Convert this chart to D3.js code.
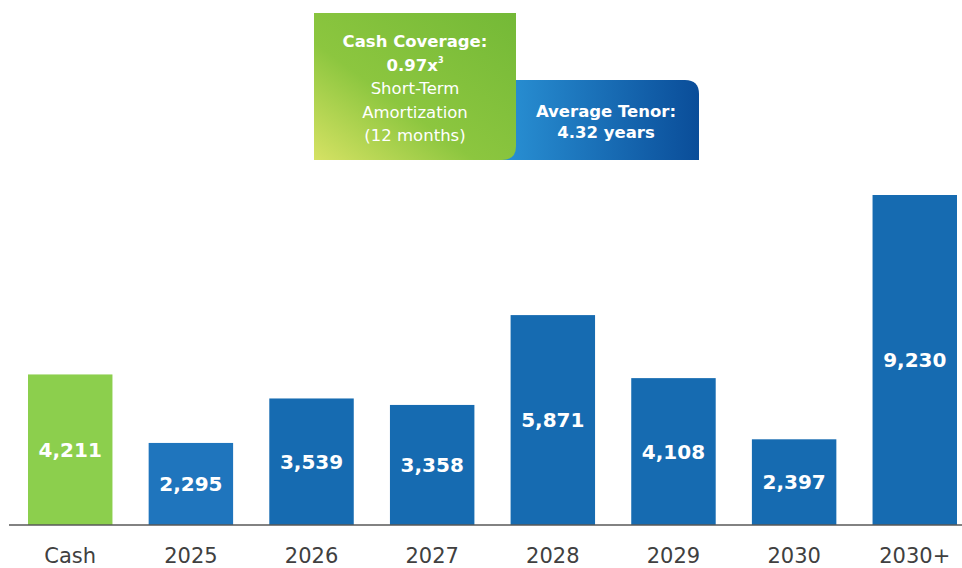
<!DOCTYPE html>
<html>
<head>
<meta charset="utf-8">
<script src="https://cdn.jsdelivr.net/npm/d3@7"></script>
<style>
  body { margin: 0; background: #fff; }
  svg { display: block; font-family: "DejaVu Sans", Verdana, sans-serif; }
</style>
</head>
<body>
<div class="chart"></div>
<script>
var categories = ["Cash", "2025", "2026", "2027", "2028", "2029", "2030", "2030+"];
var values = [4211, 2295, 3539, 3358, 5871, 4108, 2397, 9230];
var barColors = ["#8ccf4d", "#1f75bd", "#166bb1", "#166bb1", "#166bb1", "#166bb1", "#166bb1", "#166bb1"];

var greenLines = [
	{ text: "Cash Coverage:", bold: true },
	{ text: "0.97x", bold: true, sup: "3" },
	{ text: "Short-Term", bold: false },
	{ text: "Amortization", bold: false },
	{ text: "(12 months)", bold: false }
];
var blueLines = ["Average Tenor:", "4.32 years"];

var width = 962, height = 568;
var baseY = 525;

var svg = d3.select(".chart").append("svg")
	.attr("width", width)
	.attr("height", height);

var defs = svg.append("defs");

var gGreen = defs.append("linearGradient")
	.attr("id", "gGreen")
	.attr("x1", "0%").attr("y1", "100%")
	.attr("x2", "100%").attr("y2", "0%");
gGreen.append("stop").attr("offset", "0%").attr("stop-color", "#d6e264");
gGreen.append("stop").attr("offset", "40%").attr("stop-color", "#8cc63f");
gGreen.append("stop").attr("offset", "100%").attr("stop-color", "#74b937");

var gBlue = defs.append("linearGradient")
	.attr("id", "gBlue")
	.attr("x1", "0%").attr("y1", "0%")
	.attr("x2", "100%").attr("y2", "0%");
gBlue.append("stop").attr("offset", "0%").attr("stop-color", "#2a93d6");
gBlue.append("stop").attr("offset", "100%").attr("stop-color", "#0a4d99");

var x = d3.scaleBand()
	.domain(categories)
	.range([28, 957])
	.paddingInner(0.3)
	.paddingOuter(0);

var y = d3.scaleLinear()
	.domain([0, d3.max(values)])
	.range([baseY, 195]);

var data = categories.map(function(c, i) {
	return { cat: c, value: values[i], color: barColors[i] };
});

// bars
svg.selectAll("rect.bar")
	.data(data)
	.enter()
	.append("rect")
	.attr("class", "bar")
	.attr("x", function(d) { return x(d.cat); })
	.attr("y", function(d) { return y(d.value); })
	.attr("width", x.bandwidth())
	.attr("height", function(d) { return baseY - y(d.value); })
	.attr("fill", function(d) { return d.color; });

// value labels, centred in each bar
svg.selectAll("text.val")
	.data(data)
	.enter()
	.append("text")
	.attr("class", "val")
	.attr("x", function(d) { return x(d.cat) + x.bandwidth() / 2; })
	.attr("y", function(d) { return (y(d.value) + baseY) / 2 + 7; })
	.attr("text-anchor", "middle")
	.attr("fill", "#fff")
	.attr("font-weight", "bold")
	.attr("font-size", 20)
	.text(function(d) { return d3.format(",")(d.value); });

// baseline
svg.append("line")
	.attr("x1", 9).attr("x2", 962)
	.attr("y1", baseY).attr("y2", baseY)
	.attr("stroke", "#595959")
	.attr("stroke-width", 1.5);

// category axis
var axis = svg.append("g")
	.attr("transform", "translate(0," + baseY + ")")
	.call(d3.axisBottom(x).tickSize(0).tickPadding(23));
axis.select(".domain").remove();
axis.selectAll("text")
	.attr("font-family", "DejaVu Sans, Verdana, sans-serif")
	.attr("font-size", 21)
	.attr("fill", "#404040");

// blue callout (behind green)
svg.append("path")
	.attr("d", "M496,80 H685 Q699,80 699,94 V160 H496 Z")
	.attr("fill", "url(#gBlue)");

// green callout
svg.append("path")
	.attr("d", "M314,13 H516 V146 Q516,160 502,160 H314 Z")
	.attr("fill", "url(#gGreen)");

var greenText = svg.append("g")
	.attr("fill", "#fff")
	.attr("text-anchor", "middle");
greenLines.forEach(function(l, i) {
	var t = greenText.append("text")
		.attr("x", 415)
		.attr("y", 47 + i * 23.5)
		.attr("font-size", 16.5)
		.attr("font-weight", l.bold ? "bold" : "normal")
		.text(l.text);
	if (l.sup) {
		t.append("tspan")
			.attr("dy", -8)
			.attr("font-size", 8)
			.text(l.sup);
	}
});

var blueText = svg.append("g")
	.attr("fill", "#fff")
	.attr("text-anchor", "middle")
	.attr("font-weight", "bold")
	.attr("font-size", 16.5);
blueLines.forEach(function(l, i) {
	blueText.append("text")
		.attr("x", 606)
		.attr("y", 117 + i * 21)
		.text(l);
});
</script>
</body>
</html>
